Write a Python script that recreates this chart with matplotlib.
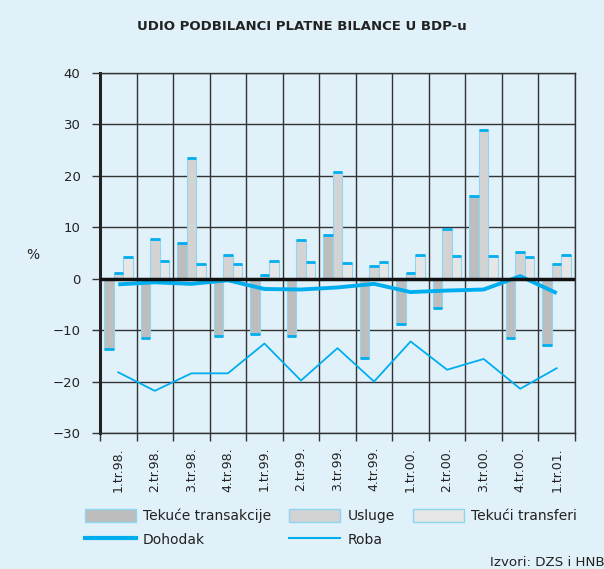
import numpy as np
import matplotlib
matplotlib.use("Agg")
import matplotlib.pyplot as plt
from matplotlib.patches import Patch
from matplotlib.lines import Line2D

quarters = ["1.tr.98.", "2.tr.98.", "3.tr.98.", "4.tr.98.", "1.tr.99.", "2.tr.99.",
            "3.tr.99.", "4.tr.99.", "1.tr.00.", "2.tr.00.", "3.tr.00.", "4.tr.00.",
            "1.tr.01."]
tekuce = [-13.7, -11.5, 6.9, -11.2, -10.7, -11.2, 8.5, -15.4, -8.9, -5.7, 16.0, -11.6, -12.9]
usluge = [1.2, 7.8, 23.5, 4.7, 0.8, 7.6, 20.8, 2.5, 1.2, 9.7, 29.0, 5.1, 2.9]
transferi = [4.3, 3.4, 2.8, 2.8, 3.4, 3.2, 3.0, 3.2, 4.7, 4.4, 4.5, 4.3, 4.7]
dohodak = [-1.1, -0.7, -1.0, -0.3, -2.0, -2.1, -1.7, -1.0, -2.6, -2.3, -2.1, 0.5, -2.8]
roba = [-18.2, -21.8, -18.4, -18.4, -12.6, -19.8, -13.5, -20.0, -12.2, -17.7, -15.6, -21.4, -17.4]

BG = "#e1f1fa"
CYAN = "#00aeef"
EDGE = "#8fd6f3"
TXT = "#222222"

fig = plt.figure(figsize=(6.04, 5.69), dpi=100, facecolor=BG)
ax = fig.add_axes([100 / 604, 1 - 433 / 569, 475 / 604, 360 / 569])
ax.set_facecolor(BG)

x = np.arange(len(quarters))
w = 0.26
for off, vals, col in [(-w, tekuce, "#bdbdbd"), (0, usluge, "#d3d3d3"), (w, transferi, "#e6e6e6")]:
    ax.bar(x + off, vals, w, color=col, edgecolor=EDGE, lw=0.8, zorder=3)
    ax.hlines(vals, x + off - w / 2, x + off + w / 2, color=CYAN, lw=2, zorder=4)

ax.plot(x, dohodak, color=CYAN, lw=2.8, zorder=5, solid_capstyle="butt")
ax.plot(x, roba, color=CYAN, lw=1.3, zorder=5)

ax.set_xlim(-0.5, len(quarters) - 0.5)
ax.set_ylim(-30, 40)
ax.set_yticks(range(-30, 41, 10))
ax.set_xticks(np.arange(-0.5, len(quarters), 1))
ax.set_xticklabels([])
ax.set_xticks(x, minor=True)
ax.set_xticklabels(quarters, minor=True, rotation=90, fontsize=9, color=TXT)
ax.tick_params(axis="x", which="minor", length=0, pad=10)
ax.tick_params(axis="x", which="major", length=6, width=1, color="#333333")
ax.tick_params(axis="y", length=6, width=1, color="#333333", labelsize=9.5,
               labelcolor=TXT, pad=8)
ax.grid(True, which="major", color="#333333", lw=1, zorder=1)
ax.axhline(0, color="#111111", lw=2.5, zorder=6)
for s in ["top", "right", "bottom"]:
    ax.spines[s].set_color("#333333")
    ax.spines[s].set_linewidth(1)
ax.spines["left"].set_color("#222222")
ax.spines["left"].set_linewidth(2.2)

fig.text(33 / 604, 1 - 255 / 569, "%", fontsize=10, color=TXT, ha="center", va="center")
fig.text(0.5, 1 - 27 / 569, "UDIO PODBILANCI PLATNE BILANCE U BDP-u", fontsize=9.5,
         fontweight="bold", color=TXT, ha="center", va="center")

handles = [
    Patch(facecolor="#bdbdbd", edgecolor=EDGE),
    Line2D([], [], color=CYAN, lw=3),
    Patch(facecolor="#d3d3d3", edgecolor=EDGE),
    Line2D([], [], color=CYAN, lw=1.5),
    Patch(facecolor="#e6e6e6", edgecolor=EDGE),
]
labels = ["Tekuće transakcije", "Dohodak", "Usluge", "Roba", "Tekući transferi"]
fig.legend(handles, labels, ncol=3, loc="upper left", bbox_to_anchor=(72 / 604, 1 - 496 / 569),
           frameon=False, fontsize=10, handlelength=3.7, handleheight=1.1,
           columnspacing=1.3, handletextpad=0.5, labelspacing=0.7,
           labelcolor=TXT)

fig.text(490 / 604, 1 - 562 / 569, "Izvori: DZS i HNB", fontsize=9.6, color=TXT,
         ha="left", va="center")

fig.savefig("out.png", dpi=100, facecolor=BG)
